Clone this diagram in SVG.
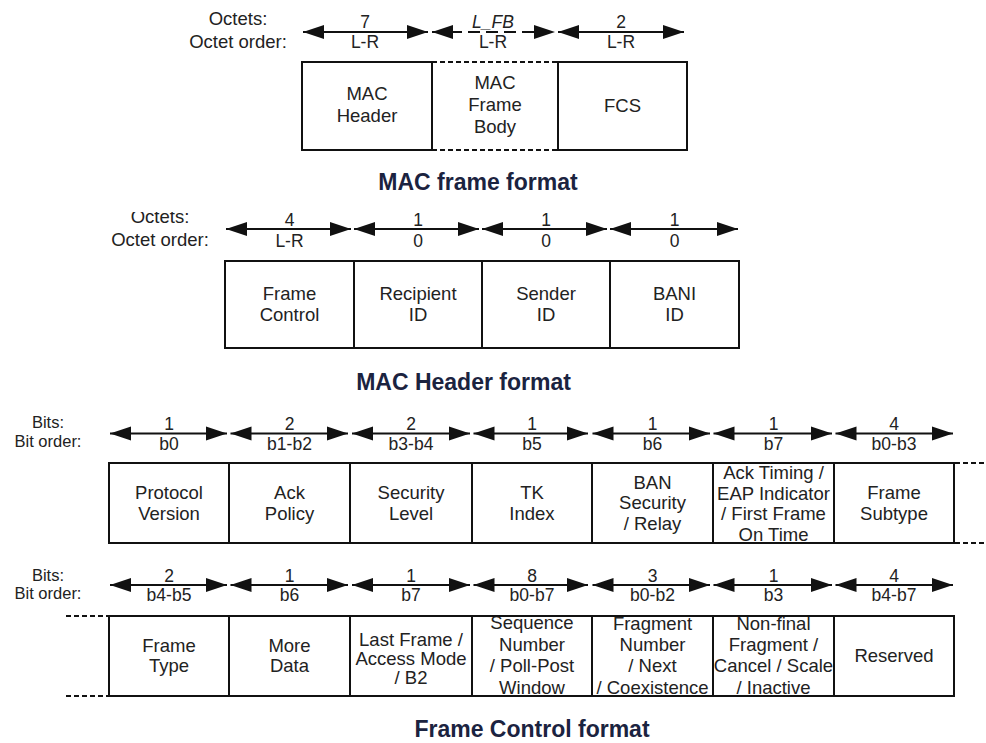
<svg xmlns="http://www.w3.org/2000/svg" width="986" height="743" viewBox="0 0 986 743">
  <defs>
    <style>
      text { font-family: "Liberation Sans", Arial, sans-serif; fill: #222; text-anchor: middle; }
      .t { font-size: 18.5px; }
      .lbl { font-size: 17.5px; }
      .hdr { font-size: 18.5px; }
      .bhdr { font-size: 16.5px; }
      .ttl { font-size: 23px; font-weight: bold; fill: #1b2340; }
      .it { font-style: italic; }
      .box { fill: #fff; stroke: #111; stroke-width: 2; }
      .dots { stroke: #111; stroke-width: 2; stroke-dasharray: 5 3; fill: none; }
      .arr { stroke: #111; stroke-width: 2; fill: none; marker-start: url(#ah); marker-end: url(#ah); }
      .arr.dashed { stroke-dasharray: 12 6; }
    </style>
    <marker id="ah" markerUnits="userSpaceOnUse" markerWidth="22" markerHeight="16" refX="21" refY="8" orient="auto-start-reverse">
      <path d="M0,1 L21,8 L0,15 z" fill="#111"/>
    </marker>
    <clipPath id="clipR1c6"><rect x="714" y="464" width="119" height="78"/></clipPath>
    <clipPath id="clipR2c4"><rect x="473" y="617" width="118" height="78"/></clipPath>
    <clipPath id="clipR2c5"><rect x="593" y="617" width="119" height="78"/></clipPath>
    <clipPath id="clipR2c6"><rect x="714" y="617" width="119" height="78"/></clipPath>
    <clipPath id="clipMid"><rect x="0" y="212" width="986" height="60"/></clipPath>
  </defs>

  <rect x="0" y="0" width="986" height="743" fill="#fff"/>

  <!-- ===== MAC frame format ===== -->
  <g id="frame-labels">
    <text class="hdr" x="238" y="25">Octets:</text>
    <text class="hdr" x="238" y="48">Octet order:</text>
    <text class="lbl" x="365" y="28">7</text>
    <text class="lbl" x="365" y="48">L-R</text>
    <text class="lbl it" x="493" y="28">L_FB</text>
    <text class="lbl" x="493" y="48">L-R</text>
    <text class="lbl" x="621" y="28">2</text>
    <text class="lbl" x="621" y="48">L-R</text>
  </g>
  <g id="mac-header-field">
    <rect class="box" x="302" y="62" width="130" height="88"/>
    <text class="t"><tspan x="367" y="100">MAC</tspan><tspan x="367" y="122">Header</tspan></text>
  </g>
  <g id="mac-frame-body-field">
    <line class="dots" x1="432" y1="62" x2="558" y2="62"/>
    <line class="dots" x1="432" y1="150" x2="558" y2="150"/>
    <text class="t"><tspan x="495" y="89">MAC</tspan><tspan x="495" y="111">Frame</tspan><tspan x="495" y="133">Body</tspan></text>
  </g>
  <g id="fcs-field">
    <rect class="box" x="558" y="62" width="129" height="88"/>
    <text class="t" x="622.5" y="112">FCS</text>
  </g>
  <text id="title-frame" class="ttl" x="478" y="190">MAC frame format</text>

  <!-- ===== MAC Header format ===== -->
  <g id="header-labels" clip-path="url(#clipMid)">
    <text class="hdr" x="160" y="223">Octets:</text>
    <text class="hdr" x="160" y="246">Octet order:</text>
    <text class="lbl" x="289.5" y="226">4</text>
    <text class="lbl" x="289.5" y="247">L-R</text>
    <text class="lbl" x="418" y="226">1</text>
    <text class="lbl" x="418" y="247">0</text>
    <text class="lbl" x="546" y="226">1</text>
    <text class="lbl" x="546" y="247">0</text>
    <text class="lbl" x="674.5" y="226">1</text>
    <text class="lbl" x="674.5" y="247">0</text>
  </g>
  <g id="frame-control-field">
    <rect class="box" x="225" y="261" width="129" height="87"/>
    <text class="t"><tspan x="289.5" y="300">Frame</tspan><tspan x="289.5" y="321">Control</tspan></text>
  </g>
  <g id="recipient-id-field">
    <rect class="box" x="354" y="261" width="128" height="87"/>
    <text class="t"><tspan x="418" y="300">Recipient</tspan><tspan x="418" y="321">ID</tspan></text>
  </g>
  <g id="sender-id-field">
    <rect class="box" x="482" y="261" width="128" height="87"/>
    <text class="t"><tspan x="546" y="300">Sender</tspan><tspan x="546" y="321">ID</tspan></text>
  </g>
  <g id="bani-id-field">
    <rect class="box" x="610" y="261" width="129" height="87"/>
    <text class="t"><tspan x="674.5" y="300">BANI</tspan><tspan x="674.5" y="321">ID</tspan></text>
  </g>
  <text id="title-header" class="ttl" x="463.5" y="390">MAC Header format</text>

  <!-- ===== Frame Control format, first row ===== -->
  <g id="bits-labels-1">
    <text class="bhdr" x="48" y="428">Bits:</text>
    <text class="bhdr" x="48" y="447">Bit order:</text>
    <text class="lbl" x="169" y="430">1</text><text class="lbl" x="169" y="450">b0</text>
    <text class="lbl" x="289.5" y="430">2</text><text class="lbl" x="289.5" y="450">b1-b2</text>
    <text class="lbl" x="411" y="430">2</text><text class="lbl" x="411" y="450">b3-b4</text>
    <text class="lbl" x="532" y="430">1</text><text class="lbl" x="532" y="450">b5</text>
    <text class="lbl" x="652.5" y="430">1</text><text class="lbl" x="652.5" y="450">b6</text>
    <text class="lbl" x="773.5" y="430">1</text><text class="lbl" x="773.5" y="450">b7</text>
    <text class="lbl" x="894" y="430">4</text><text class="lbl" x="894" y="450">b0-b3</text>
  </g>
  <g id="protocol-version">
    <rect class="box" x="109" y="463" width="120" height="80"/>
    <text class="t"><tspan x="169" y="499">Protocol</tspan><tspan x="169" y="519.5">Version</tspan></text>
  </g>
  <g id="ack-policy">
    <rect class="box" x="229" y="463" width="121" height="80"/>
    <text class="t"><tspan x="289.5" y="499">Ack</tspan><tspan x="289.5" y="519.5">Policy</tspan></text>
  </g>
  <g id="security-level">
    <rect class="box" x="350" y="463" width="122" height="80"/>
    <text class="t"><tspan x="411" y="499">Security</tspan><tspan x="411" y="519.5">Level</tspan></text>
  </g>
  <g id="tk-index">
    <rect class="box" x="472" y="463" width="120" height="80"/>
    <text class="t"><tspan x="532" y="499">TK</tspan><tspan x="532" y="519.5">Index</tspan></text>
  </g>
  <g id="ban-security-relay">
    <rect class="box" x="592" y="463" width="121" height="80"/>
    <text class="t"><tspan x="652.5" y="488.5">BAN</tspan><tspan x="652.5" y="509">Security</tspan><tspan x="652.5" y="529.5">/ Relay</tspan></text>
  </g>
  <g id="ack-timing">
    <rect class="box" x="713" y="463" width="121" height="80"/>
    <text class="t" clip-path="url(#clipR1c6)"><tspan x="773.5" y="479">Ack Timing /</tspan><tspan x="773.5" y="499.5">EAP Indicator</tspan><tspan x="773.5" y="520">/ First Frame</tspan><tspan x="773.5" y="541">On Time</tspan></text>
  </g>
  <g id="frame-subtype">
    <rect class="box" x="834" y="463" width="120" height="80"/>
    <text class="t"><tspan x="894" y="499">Frame</tspan><tspan x="894" y="519.5">Subtype</tspan></text>
  </g>
  <line class="dots" x1="955" y1="463" x2="986" y2="463"/>
  <line class="dots" x1="955" y1="543" x2="986" y2="543"/>

  <!-- ===== Frame Control format, second row ===== -->
  <g id="bits-labels-2">
    <text class="bhdr" x="48" y="581">Bits:</text>
    <text class="bhdr" x="48" y="599">Bit order:</text>
    <text class="lbl" x="169" y="582">2</text><text class="lbl" x="169" y="601">b4-b5</text>
    <text class="lbl" x="289.5" y="582">1</text><text class="lbl" x="289.5" y="601">b6</text>
    <text class="lbl" x="411" y="582">1</text><text class="lbl" x="411" y="601">b7</text>
    <text class="lbl" x="532" y="582">8</text><text class="lbl" x="532" y="601">b0-b7</text>
    <text class="lbl" x="652.5" y="582">3</text><text class="lbl" x="652.5" y="601">b0-b2</text>
    <text class="lbl" x="773.5" y="582">1</text><text class="lbl" x="773.5" y="601">b3</text>
    <text class="lbl" x="894" y="582">4</text><text class="lbl" x="894" y="601">b4-b7</text>
  </g>
  <line class="dots" x1="66" y1="616" x2="108" y2="616"/>
  <line class="dots" x1="66" y1="696" x2="108" y2="696"/>
  <g id="frame-type">
    <rect class="box" x="109" y="616" width="120" height="80"/>
    <text class="t"><tspan x="169" y="652">Frame</tspan><tspan x="169" y="672">Type</tspan></text>
  </g>
  <g id="more-data">
    <rect class="box" x="229" y="616" width="121" height="80"/>
    <text class="t"><tspan x="289.5" y="652">More</tspan><tspan x="289.5" y="672">Data</tspan></text>
  </g>
  <g id="last-frame">
    <rect class="box" x="350" y="616" width="122" height="80"/>
    <text class="t"><tspan x="411" y="646">Last Frame /</tspan><tspan x="411" y="665">Access Mode</tspan><tspan x="411" y="684">/ B2</tspan></text>
  </g>
  <g id="sequence-number">
    <rect class="box" x="472" y="616" width="120" height="80"/>
    <text class="t" clip-path="url(#clipR2c4)"><tspan x="532" y="628.5">Sequence</tspan><tspan x="532" y="650.5">Number</tspan><tspan x="532" y="672">/ Poll-Post</tspan><tspan x="532" y="693.5">Window</tspan></text>
  </g>
  <g id="fragment-number">
    <rect class="box" x="592" y="616" width="121" height="80"/>
    <text class="t" clip-path="url(#clipR2c5)"><tspan x="652.5" y="630">Fragment</tspan><tspan x="652.5" y="651">Number</tspan><tspan x="652.5" y="672">/ Next</tspan><tspan x="652.5" y="693.5">/ Coexistence</tspan></text>
  </g>
  <g id="non-final-fragment">
    <rect class="box" x="713" y="616" width="121" height="80"/>
    <text class="t" clip-path="url(#clipR2c6)"><tspan x="773.5" y="630">Non-final</tspan><tspan x="773.5" y="651">Fragment /</tspan><tspan x="773.5" y="672">Cancel / Scale</tspan><tspan x="773.5" y="693.5">/ Inactive</tspan></text>
  </g>
  <g id="reserved">
    <rect class="box" x="834" y="616" width="120" height="80"/>
    <text class="t" x="894" y="662">Reserved</text>
  </g>
  <text id="title-control" class="ttl" x="532" y="737">Frame Control format</text>

  <!-- size arrows -->
  <g id="connectors">
    <line class="arr" x1="303" y1="32" x2="428" y2="32"/>
    <line class="arr dashed" x1="432" y1="32" x2="555" y2="32"/>
    <line class="arr" x1="558" y1="32" x2="684" y2="32"/>

    <line class="arr" x1="226" y1="229" x2="351" y2="229"/>
    <line class="arr" x1="354" y1="229" x2="479" y2="229"/>
    <line class="arr" x1="482" y1="229" x2="607" y2="229"/>
    <line class="arr" x1="610" y1="229" x2="738" y2="229"/>

    <line class="arr" x1="110" y1="433.5" x2="227" y2="433.5"/>
    <line class="arr" x1="230.5" y1="433.5" x2="348" y2="433.5"/>
    <line class="arr" x1="352" y1="433.5" x2="470" y2="433.5"/>
    <line class="arr" x1="473.5" y1="433.5" x2="588" y2="433.5"/>
    <line class="arr" x1="592.5" y1="433.5" x2="710" y2="433.5"/>
    <line class="arr" x1="713.5" y1="433.5" x2="832" y2="433.5"/>
    <line class="arr" x1="835.5" y1="433.5" x2="953" y2="433.5"/>

    <line class="arr" x1="110" y1="585" x2="227" y2="585"/>
    <line class="arr" x1="230.5" y1="585" x2="348" y2="585"/>
    <line class="arr" x1="352" y1="585" x2="470" y2="585"/>
    <line class="arr" x1="473.5" y1="585" x2="588" y2="585"/>
    <line class="arr" x1="592.5" y1="585" x2="710" y2="585"/>
    <line class="arr" x1="713.5" y1="585" x2="832" y2="585"/>
    <line class="arr" x1="835.5" y1="585" x2="953" y2="585"/>
  </g>
</svg>
